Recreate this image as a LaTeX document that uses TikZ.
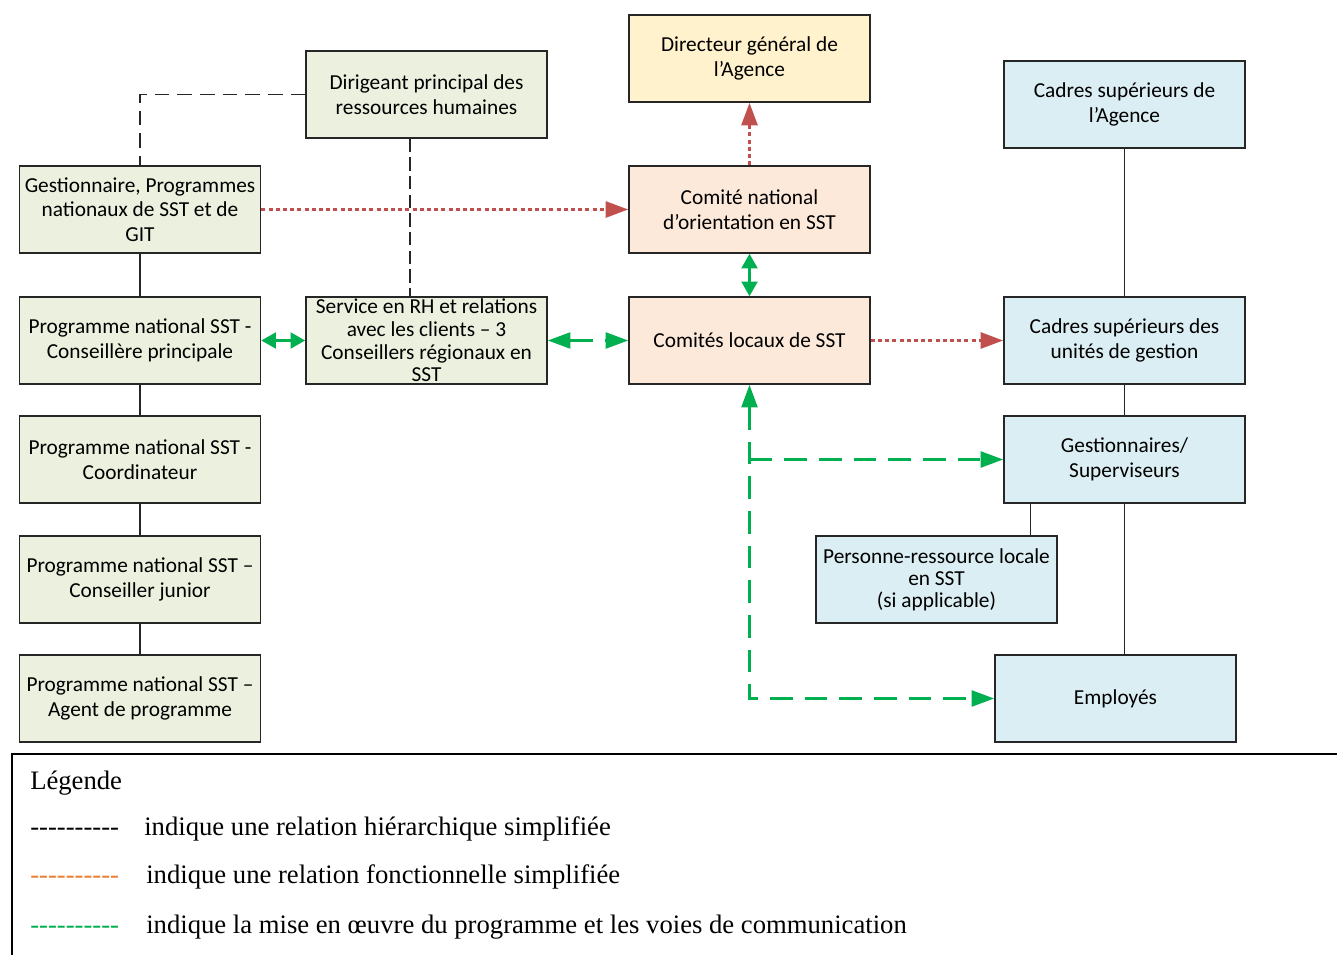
\documentclass[tikz,border=0pt]{standalone}
\usepackage{fontspec}
\setmainfont{Carlito}
\newfontfamily\legende{Liberation Serif}
\usetikzlibrary{arrows.meta}

\definecolor{vertboite}{HTML}{EBF1DE}
\definecolor{jauneboite}{HTML}{FFF2CC}
\definecolor{roseboite}{HTML}{FDE9D9}
\definecolor{bleuboite}{HTML}{DBEEF3}
\definecolor{rougefl}{HTML}{C0504D}
\definecolor{vertfl}{HTML}{00B050}
\definecolor{orangeleg}{HTML}{ED7D31}

\newcommand\tirets{\foreach \k in {1,...,10}{\mbox{-}}}

\begin{document}
\begin{tikzpicture}[x=0.75pt,y=-0.75pt,
  boite/.style={draw=black!85,line width=1.2pt,minimum width=180.75pt,
    minimum height=65.25pt,align=center,inner sep=1pt,
    font=\fontsize{16}{18.5}\selectfont},
  trait/.style={draw=black!85,line width=1pt},
  hier/.style={draw=black!85,line width=1.1pt,dash pattern=on 11pt off 6pt},
  hierfin/.style={draw=black!85,line width=0.8pt,dash pattern=on 10pt off 4pt},
  fonction/.style={draw=rougefl,line width=2.3pt,dash pattern=on 3pt off 2.4pt,
    -{Triangle[length=17pt,width=12pt]}},
  echange/.style={draw=vertfl,line width=1.6pt,
    {Triangle[length=11pt,width=12pt]}-{Triangle[length=11pt,width=12pt]}},
  mise/.style={draw=vertfl,line width=1.9pt,dash pattern=on 17pt off 9pt},
  legtexte/.style={anchor=base west,inner sep=0pt,
    font=\legende\fontsize{20}{24}\selectfont}]
\useasboundingbox (0,0) rectangle (1337,955);

% colonne de gauche
\node[boite,fill=vertboite] (dirigeant) at (426.5,94.5) {Dirigeant principal des\\ressources humaines};
\node[boite,fill=vertboite] (gestionnaire) at (140,209.5) {Gestionnaire, Programmes\\nationaux de SST et de\\GIT};
\node[boite,fill=vertboite] (conseillere) at (140,340.5) {Programme national SST -\\Conseillère principale};
\node[boite,fill=vertboite] (coordinateur) at (140,459.5) {Programme national SST -\\Coordinateur};
\node[boite,fill=vertboite] (junior) at (140,579.5) {Programme national SST –\\Conseiller junior};
\node[boite,fill=vertboite] (agent) at (140,698.5) {Programme national SST –\\Agent de programme};
\node[boite,fill=vertboite,font=\fontsize{16}{17}\selectfont] (service) at (426.5,340.5) {Service en RH et relations\\avec les clients – 3\\Conseillers régionaux en\\SST};

% comites
\node[boite,fill=jauneboite] (directeur) at (749.5,58.5) {Directeur général de\\l’Agence};
\node[boite,fill=roseboite] (national) at (749.5,209.5) {Comité national\\d'orientation en SST};
\node[boite,fill=roseboite] (locaux) at (749.5,340.5) {Comités locaux de SST};

% colonne de droite
\node[boite,fill=bleuboite] (cadresagence) at (1124.5,104.5) {Cadres supérieurs de\\l’Agence};
\node[boite,fill=bleuboite] (cadresunites) at (1124.5,340.5) {Cadres supérieurs des\\unités de gestion};
\node[boite,fill=bleuboite] (gestsup) at (1124.5,459.5) {Gestionnaires/\\Superviseurs};
\node[boite,fill=bleuboite,font=\fontsize{16}{16.5}\selectfont] (personne) at (936.5,579.5) {Personne-ressource locale\\en SST\\(si applicable)};
\node[boite,fill=bleuboite] (employes) at (1115.5,698.5) {Employés};

% liens hierarchiques
\draw[trait] (gestionnaire) -- (conseillere) -- (coordinateur) -- (junior) -- (agent);
\draw[trait] (cadresagence) -- (cadresunites) -- (gestsup);
\draw[trait] (gestsup.south) -- (gestsup.south |- employes.north);
\draw[trait] ([xshift=-20.25pt]personne.north east) -- ([xshift=-20.25pt]personne.north east |- gestsup.south);
\draw[hier] (dirigeant.west) -| (gestionnaire.north);
\draw[hierfin] ([xshift=-12.4pt]dirigeant.south) -- ([xshift=-12.4pt]service.north);

% liens fonctionnels
\draw[fonction] (gestionnaire) -- (national);
\draw[fonction] (national) -- (directeur);
\draw[fonction] (locaux) -- (cadresunites);

% mise en oeuvre
\draw[echange] (national) -- (locaux);
\draw[echange] (conseillere) -- (service);
\draw[mise,{Triangle[length=17pt,width=12pt]}-{Triangle[length=17pt,width=12pt]}] (service) -- (locaux);
\coordinate (coin) at (locaux.south |- employes.west);
\draw[mise,{Triangle[length=17pt,width=12pt]}-{Triangle[length=17pt,width=12pt]}] (locaux.south) -- (coin) -- (employes.west);
\draw[mise,-{Triangle[length=17pt,width=12pt]}] (locaux.south |- gestsup.west) -- (gestsup.west);

% legende
\draw[line width=1.5pt] (12,955) -- (12,754) -- (1337,754);
\node[legtexte] (titre) at (30,789) {Légende};
\node[legtexte] (tiretsh) at (30,835) {\tirets};
\node[legtexte] (texteh) at (144,835) {indique une relation hiérarchique simplifiée};
\node[legtexte,text=orangeleg] (tiretsf) at (30,883) {\tirets};
\node[legtexte] (textef) at (146,883) {indique une relation fonctionnelle simplifiée};
\node[legtexte,text=vertfl] (tiretsm) at (30,933) {\tirets};
\node[legtexte] (textem) at (146,933) {indique la mise en œuvre du programme et les voies de communication};
\end{tikzpicture}
\end{document}
